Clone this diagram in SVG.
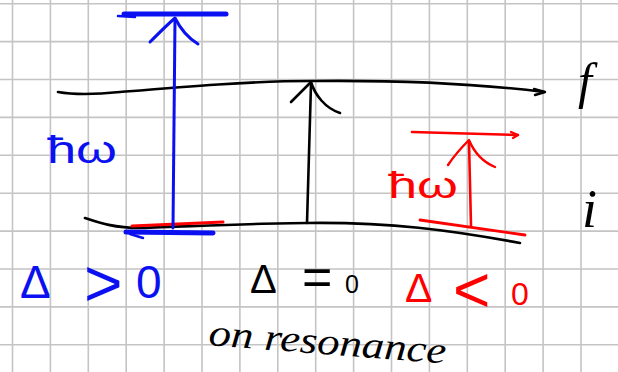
<svg xmlns="http://www.w3.org/2000/svg" width="618" height="372" viewBox="0 0 618 372">
  <style>
    .grid { stroke: #c4c4c4; stroke-width: 1.6; fill: none; }
    .ink { fill: none; stroke-linecap: round; stroke-linejoin: round; }
    .k { stroke: #000; }
    .b { stroke: #0a10f0; }
    .r { stroke: #f00; }
    .lbl { font-family: "Liberation Sans", Arial, sans-serif; }
    .scr { font-family: "Liberation Serif", "Times New Roman", serif; font-style: italic; }
  </style>
  <rect width="618" height="372" fill="#fff"/>
  <g id="grid">
    <path class="grid" d="M12.5,0V372M50.4,0V372M88.3,0V372M126.2,0V372M164.1,0V372M202,0V372M239.9,0V372M277.8,0V372M315.7,0V372M353.6,0V372M391.5,0V372M429.4,0V372M467.3,0V372M505.2,0V372M543.1,0V372M581,0V372M0,3.7H618M0,41.6H618M0,79.5H618M0,117.4H618M0,155.3H618M0,193.2H618M0,231.1H618M0,269H618M0,306.9H618M0,344.8H618"/>
  </g>

  <g id="level-f">
    <path class="ink k" stroke-width="2.6" d="M58,92 C75,95 100,94 120,92 C180,87 250,81 311,81 C400,80 480,84 544,92"/>
    <path class="ink k" stroke-width="2.4" d="M534,89 L545,92 L535,95"/>
    <text class="scr" x="578" y="98" font-size="50" fill="#000">f</text>
  </g>

  <g id="level-i">
    <path class="ink k" stroke-width="2.6" d="M85,218 C100,223 115,228 140,228 C200,226 260,223 307,223 C390,222 450,230 520,243"/>
    <text class="scr" x="582" y="227" font-size="54" fill="#000">i</text>
  </g>

  <g id="bars-blue">
    <path class="ink b" stroke-width="5" d="M124,14 L226,14"/>
    <path class="ink b" stroke-width="2.5" d="M118,16 L135,17"/>
    <path class="ink r" stroke-width="3" d="M132,226 L223,222"/>
    <path class="ink b" stroke-width="5" d="M126,232 L213,233"/>
    <path class="ink b" stroke-width="2.5" d="M130,234 L143,238"/>
  </g>

  <g id="bars-red">
    <path class="ink r" stroke-width="2.6" d="M412,132 L518,135"/>
    <path class="ink r" stroke-width="2.2" d="M511,132 L518,135 L513,138"/>
    <path class="ink r" stroke-width="2.8" d="M420,220 L525,235"/>
  </g>

  <g id="connectors">
    <path class="ink b" stroke-width="3" d="M173,228 L175,19"/>
    <path class="ink b" stroke-width="3" d="M150,42 C160,32 168,24 175,18 C180,28 188,38 198,44"/>
    <path class="ink k" stroke-width="2.6" d="M307,223 L311,84"/>
    <path class="ink k" stroke-width="2.6" d="M291,102 L311,82 C315,95 325,108 340,113"/>
    <path class="ink r" stroke-width="2.6" d="M471,226 L469,142"/>
    <path class="ink r" stroke-width="2.4" d="M448,165 C454,156 462,147 469,140 C474,152 483,162 495,167"/>
  </g>

  <g id="labels">
    <text class="lbl" x="47" y="163" font-size="38" fill="#0a10f0" textLength="70" lengthAdjust="spacingAndGlyphs">ħω</text>
    <text class="lbl" x="388" y="198" font-size="36" fill="#f00" textLength="70" lengthAdjust="spacingAndGlyphs">ħω</text>

    <text class="lbl" fill="#0a10f0" font-size="46" x="20" y="298">Δ</text>
    <text class="lbl" fill="#0a10f0" font-size="66" x="84" y="306">&gt;</text>
    <text class="lbl" fill="#0a10f0" font-size="46" x="136" y="298">0</text>

    <text class="lbl" fill="#000" font-size="40" x="250" y="293">Δ</text>
    <text class="lbl" fill="#000" font-size="52" x="302" y="295">=</text>
    <text class="lbl" fill="#000" font-size="25" x="345" y="293">0</text>

    <text class="lbl" fill="#f00" font-size="41" x="405" y="302">Δ</text>
    <text class="lbl" fill="#f00" font-size="64" x="453" y="312">&lt;</text>
    <text class="lbl" fill="#f00" font-size="32" x="511" y="305">0</text>

    <text class="scr" fill="#000" font-size="38" x="208" y="345" textLength="238" lengthAdjust="spacingAndGlyphs" transform="rotate(4.5 208 345)">on resonance</text>
  </g>
</svg>
